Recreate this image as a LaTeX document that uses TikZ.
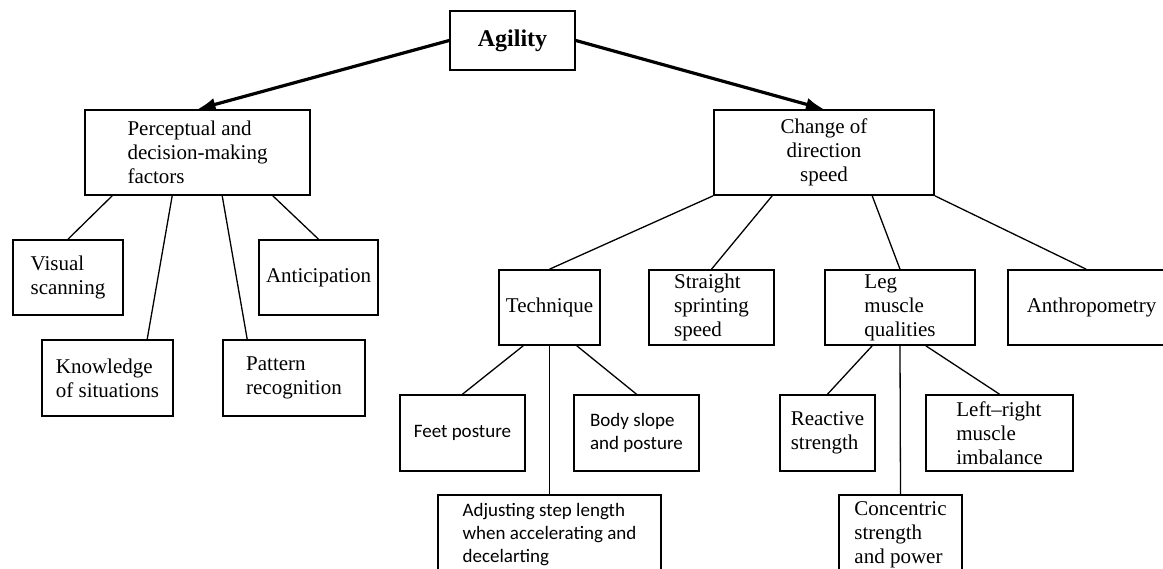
\documentclass[tikz,border=0pt]{standalone}
\usepackage{fontspec}
\setmainfont{Liberation Serif}
\newfontfamily\calfont{Carlito}
\usetikzlibrary{arrows.meta}
\tikzstyle{box}=[draw, line width=1.6pt, inner sep=3pt, align=left, font=\fontsize{21}{24}\selectfont]
\tikzstyle{sbox}=[box, font=\calfont\fontsize{19}{23}\selectfont]
\tikzstyle{link}=[line width=1.3pt]
\tikzstyle{bigarrow}=[line width=3.2pt, -{Latex[length=18pt,width=13pt]}]

\begin{document}
\begin{tikzpicture}[x=1pt, y=-1pt]
        \useasboundingbox (0,0) rectangle (1163,569);
        \node[box, minimum width=125pt, minimum height=59pt, font=\bfseries\fontsize{24}{28}\selectfont] (agi) at (512.5,40.5) {Agility};
        \node[box, minimum width=225pt, minimum height=85pt] (per) at (197.5,152.5) {Perceptual and\\decision-making\\factors};
        \node[box, minimum width=220pt, minimum height=85pt, align=center] (chg) at (824,152.5) {Change of\\direction\\speed};
        \draw[bigarrow] (agi.west) -- (per.north);
        \draw[bigarrow] (agi.east) -- (chg.north);

        \node[box, minimum width=110pt, minimum height=75pt] (vis) at (68,277.5) {Visual\\scanning};
        \node[box, minimum width=119pt, minimum height=75pt] (ant) at (318.5,277.5) {Anticipation};
        \node[box, minimum width=131pt, minimum height=76pt] (kno) at (107.5,378) {Knowledge\\of situations};
        \node[box, minimum width=142pt, minimum height=76pt] (pat) at (294,378) {Pattern\\recognition};
        \draw[link] ([xshift=28pt]per.south west) -- (vis.north);
        \draw[link] ([xshift=88pt]per.south west) -- ([xshift=106pt]kno.north west);
        \draw[link] ([xshift=138pt]per.south west) -- ([xshift=25pt]pat.north west);
        \draw[link] ([xshift=-38pt]per.south east) -- (ant.north);

        \node[box, minimum width=101pt, minimum height=75pt] (tec) at (549.5,307.5) {Technique};
        \node[box, minimum width=125pt, minimum height=75pt] (spr) at (711.5,307.5) {Straight\\sprinting\\speed};
        \node[box, minimum width=150pt, minimum height=75pt] (leg) at (900,307.5) {Leg\\muscle\\qualities};
        \node[box, minimum width=191pt, minimum height=75pt] (anr) at (1103.5,307.5) {Anthropometry\hspace*{24pt}};
        \draw[link] (chg.south west) -- (tec.north);
        \draw[link] ([xshift=59pt]chg.south west) -- (spr.north);
        \draw[link] ([xshift=159pt]chg.south west) -- (leg.north);
        \draw[link] (chg.south east) -- ([xshift=79pt]anr.north west);

        \node[sbox, minimum width=125pt, minimum height=76pt] (fee) at (462.5,433) {Feet posture};
        \node[sbox, minimum width=125pt, minimum height=76pt] (bod) at (636.5,433) {Body slope\\and posture};
        \node[sbox, minimum width=223pt, minimum height=80pt] (adj) at (549.5,535) {Adjusting step length\\when accelerating and\\decelarting};
        \draw[link] ([xshift=25pt]tec.south west) -- (fee.north);
        \draw[link] (tec.south) -- (adj.north);
        \draw[link] ([xshift=-24pt]tec.south east) -- (bod.north);

        \node[box, minimum width=95pt, minimum height=76pt] (rea) at (827.5,433) {Reactive\\strength};
        \node[box, minimum width=147pt, minimum height=76pt] (lrm) at (999.5,433) {Left--right\\muscle\\imbalance};
        \node[box, minimum width=123pt, minimum height=80pt] (con) at (900.5,535) {Concentric\\strength\\and power};
        \draw[link] ([xshift=48pt]leg.south west) -- (rea.north);
        \draw[link] (leg.south) -- (con.north);
        \draw[link] ([xshift=-50pt]leg.south east) -- (lrm.north);
\end{tikzpicture}
\end{document}
